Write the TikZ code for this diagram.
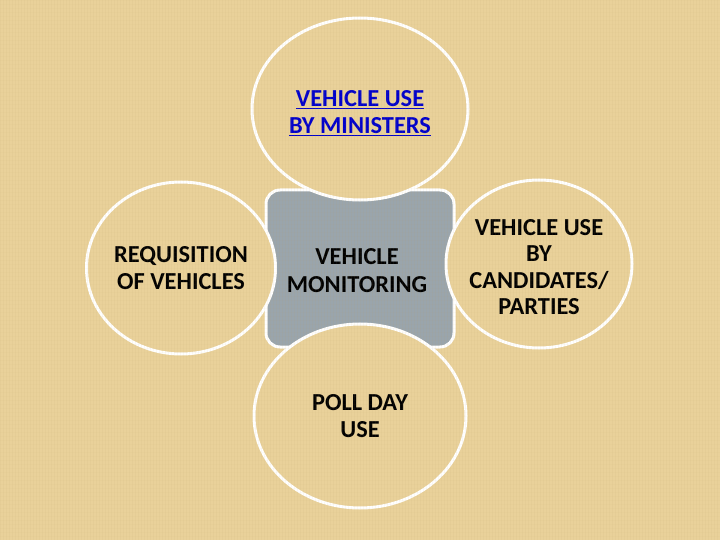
\documentclass[tikz,border=0pt]{standalone}
\usepackage{fontspec}
\setmainfont{Carlito}
\usetikzlibrary{shapes.geometric}
\definecolor{parchment}{RGB}{233,209,154}
\definecolor{grain}{RGB}{190,160,100}
\definecolor{slate}{RGB}{154,165,172}
\definecolor{linkblue}{RGB}{0,0,204}
\tikzset{
  bubble/.style={ellipse, draw=white, line width=3bp, fill=parchment, inner sep=0pt,
    align=center, font=\bfseries\fontsize{24.5}{26.5}\selectfont},
  bubbletext/.style={align=center, inner sep=0pt, font=\bfseries\fontsize{24.5}{26.5}\selectfont},
  hub/.style={align=center, font=\bfseries\fontsize{24.5}{28}\selectfont},
}

\begin{document}
\begin{tikzpicture}[x=1bp,y=-1bp]
	%%%%% START %%%%%
	
	\fill[parchment] (0,0) rectangle (720,540);
	\useasboundingbox (0,0) rectangle (720,540);
	
	% centre piece
	\draw[white, line width=3bp, fill=slate, rounded corners=14bp] (266,190) rectangle (454,347);
	\node[hub] (monitoring) at (357,271) {VEHICLE\\MONITORING};
	
	% four bubbles
	\node[bubble, minimum width=216bp, minimum height=182bp,
		label={[bubbletext, yshift=-4bp, name=ministerstext]center:\textcolor{linkblue}{\underline{VEHICLE USE}}\\[0.5bp]\textcolor{linkblue}{\underline{BY MINISTERS}}}]
		(ministers) at (360,109) {};
	\node[bubble, minimum width=186bp, minimum height=172bp] (requisition) at (181,268) {REQUISITION\\OF VEHICLES};
	\node[bubble, minimum width=186bp, minimum height=168bp,
		label={[bubbletext, yshift=-3bp, name=candidatestext]center:VEHICLE USE\\BY\\CANDIDATES/\\PARTIES}]
		(candidates) at (539,264) {};
	\node[bubble, minimum width=212bp, minimum height=184bp] (pollday) at (360,416) {POLL DAY\\USE};
	
	% paper grain
	\foreach \i in {0,3,...,720}
		\draw[grain, opacity=0.07, line width=0.5bp] (\i,0) -- (\i,540);
	\foreach \j in {0,4,...,540}
		\draw[grain, opacity=0.04, line width=0.5bp] (0,\j) -- (720,\j);
	
	%%%%% END %%%%%
\end{tikzpicture}
\end{document}
